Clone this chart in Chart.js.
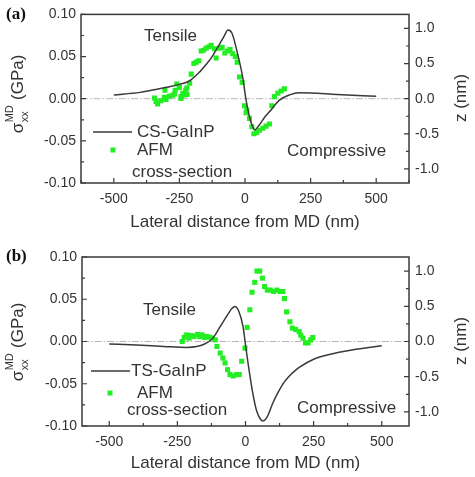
<!DOCTYPE html>
<html><head><meta charset="utf-8">
<script src="https://cdn.jsdelivr.net/npm/chart.js@4"></script>
<style>
html,body{margin:0;padding:0;background:#fff;width:475px;height:477px;overflow:hidden}
.wrap{position:absolute;left:0;width:475px}
#wa{top:0;height:240px}
#wb{top:240px;height:237px}
canvas{display:block}
</style></head><body>
<div class="wrap" id="wa"><canvas id="ca" width="475" height="240"></canvas></div>
<div class="wrap" id="wb"><canvas id="cb" width="475" height="237"></canvas></div>
<script>
// ---- tick labels ----
const xTicks = [-500, -250, 0, 250, 500];
const stressTicks = [-0.10, -0.05, 0.00, 0.05, 0.10];
const zTicks = [-1.0, -0.5, 0.0, 0.5, 1.0];

// ---- panel (a): CS-GaInP model stress (GPa) ----
const csX = [-500,-400,-340,-300,-250,-212,-175,-150,-125,-110,-100,-80,-65,-50,-28,-9,4,15,29,37,50,75,100,130,170,207,250,350,500];
const csStress = [0.0044,0.0075,0.011,0.0135,0.017,0.021,0.031,0.040,0.050,0.058,0.063,0.074,0.0815,0.078,0.053,0.026,-0.0015,-0.019,-0.033,-0.037,-0.033,-0.022,-0.013,-0.002,0.0045,0.007,0.0068,0.005,0.003];
// ---- panel (a): AFM cross-section height (nm) ----
const afmAX = [-345,-339,-333,-320,-307,-305,-301,-288,-275,-269,-266,-260,-250,-244,-243,-237,-231,-226,-222,-221,-211,-205,-195,-186,-176,-167,-158,-148,-137,-129,-116,-110,-98,-87,-77,-67,-57,-47,-37,-30,-21,-11,-2,4,7,17,26,34,45,55,68,80,93,102,112,125,138,150];
const afmAZ = [0.01,-0.04,-0.076,-0.03,0.02,0.12,-0.01,0.035,0.05,0.067,0.12,0.21,0.16,0.005,0.03,0.077,0.053,0.12,0.15,0.06,0.22,0.35,0.50,0.52,0.54,0.68,0.69,0.72,0.74,0.76,0.71,0.58,0.72,0.73,0.65,0.68,0.70,0.64,0.60,0.52,0.31,0.23,-0.10,-0.20,-0.16,-0.28,-0.40,-0.50,-0.48,-0.45,-0.42,-0.39,-0.36,-0.10,0.03,0.08,0.11,0.14];

// ---- panel (b): TS-GaInP model stress (GPa) ----
const tsX = [-500,-400,-300,-214,-150,-120,-93,-63,-50,-39,-25,-9,0,10,25,40,55,65,80,100,120,140,160,180,200,250,300,400,500];
const tsStress = [-0.003,-0.0042,-0.0058,-0.007,-0.003,0.004,0.0176,0.033,0.039,0.0415,0.036,0.0176,-0.004,-0.027,-0.058,-0.081,-0.092,-0.094,-0.089,-0.073,-0.060,-0.049,-0.041,-0.035,-0.030,-0.021,-0.016,-0.0095,-0.005];
// ---- panel (b): AFM cross-section height (nm) ----
const afmBX = [-232,-225,-216,-207,-199,-189,-177,-168,-159,-150,-141,-131,-122,-111,-105,-93,-83,-75,-66,-57,-45,-33,-23,-14,-2,6,16,24,34,42,52,62,70,80,91,103,115,127,137,143,151,163,172,184,197,203,211,220,230,239,247];
const afmBZ = [0.0,0.06,0.094,0.047,0.085,0.07,0.10,0.07,0.094,0.056,0.07,0.06,0.047,0.023,-0.07,-0.165,-0.235,-0.305,-0.40,-0.47,-0.49,-0.47,-0.47,-0.28,-0.094,0.2,0.45,0.70,0.84,1.0,1.0,0.90,0.78,0.73,0.73,0.71,0.73,0.71,0.71,0.61,0.42,0.28,0.19,0.17,0.14,0.09,0.047,-0.02,-0.02,0.023,0.056];

const FONT = "'Liberation Sans', Arial, Helvetica, sans-serif";
const TXT = '#333333';
const LINE = '#3a3a3a';
const GREEN = '#22ee22';

function pts(xs, ys){ return xs.map((x,i)=>({x, y: ys[i]})); }

function decor(cfg){
  return {
    id: 'decor',
    beforeDatasetsDraw(chart){
      const {ctx, chartArea:a, scales} = chart;
      const y0 = scales.y.getPixelForValue(0);
      ctx.save();
      ctx.strokeStyle = '#b5b5b5'; ctx.lineWidth = 1; ctx.setLineDash([7,2,1.5,2]);
      ctx.beginPath(); ctx.moveTo(a.left, y0); ctx.lineTo(a.right, y0); ctx.stroke();
      ctx.restore();
    },
    afterDraw(chart){
      const {ctx, chartArea:a, scales} = chart;
      ctx.save();
      ctx.strokeStyle = LINE; ctx.lineWidth = 1.5;
      ctx.strokeRect(a.left, a.top, a.right - a.left, a.bottom - a.top);
      ctx.lineWidth = 1.2;
      const tickSet = (scale, majors) => {
        const step = majors[1] - majors[0];
        const minors = [];
        majors.forEach(v => { [v - step/2, v + step/2].forEach(m => {
          if (m >= scale.min && m <= scale.max && !minors.some(q => Math.abs(q-m) < 1e-9)) minors.push(m);
        }); });
        return {majors, minors};
      };
      const xs = tickSet(scales.x, xTicks);
      ctx.beginPath();
      xs.majors.forEach(v => { const p = scales.x.getPixelForValue(v); ctx.moveTo(p, a.bottom); ctx.lineTo(p, a.bottom - 5); });
      xs.minors.forEach(v => { const p = scales.x.getPixelForValue(v); ctx.moveTo(p, a.bottom); ctx.lineTo(p, a.bottom - 3); });
      const ys = tickSet(scales.y, stressTicks);
      ys.majors.forEach(v => { const p = scales.y.getPixelForValue(v); ctx.moveTo(a.left, p); ctx.lineTo(a.left + 5, p); });
      ys.minors.forEach(v => { const p = scales.y.getPixelForValue(v); ctx.moveTo(a.left, p); ctx.lineTo(a.left + 3, p); });
      const zs = tickSet(scales.y1, zTicks);
      zs.majors.forEach(v => { const p = scales.y1.getPixelForValue(v); ctx.moveTo(a.right, p); ctx.lineTo(a.right - 5, p); });
      zs.minors.forEach(v => { const p = scales.y1.getPixelForValue(v); ctx.moveTo(a.right, p); ctx.lineTo(a.right - 3, p); });
      ctx.stroke();

      ctx.fillStyle = '#111';
      ctx.font = "bold 17px 'Liberation Serif', 'Times New Roman', serif";
      ctx.textBaseline = 'middle'; ctx.textAlign = 'left';
      ctx.fillText(cfg.panel, 6, cfg.panelY);

      ctx.fillStyle = TXT;
      ctx.font = '17px ' + FONT;
      ctx.fillText('Tensile', cfg.tensile[0], cfg.tensile[1]);
      ctx.fillText('Compressive', cfg.comp[0], cfg.comp[1]);
      ctx.strokeStyle = LINE; ctx.lineWidth = 1.5;
      ctx.beginPath(); ctx.moveTo(cfg.legLine[0], cfg.legLine[2]); ctx.lineTo(cfg.legLine[1], cfg.legLine[2]); ctx.stroke();
      ctx.fillText(cfg.name, cfg.legText[0], cfg.legLine[2]);
      ctx.fillStyle = GREEN;
      ctx.fillRect(cfg.legSq[0] - 2.5, cfg.legSq[1] - 2.5, 5, 5);
      ctx.fillStyle = TXT;
      ctx.fillText('AFM', cfg.afmText[0], cfg.afmText[1]);
      ctx.fillText('cross-section', cfg.cross[0], cfg.cross[1]);

      ctx.textAlign = 'center';
      ctx.fillText('Lateral distance from MD (nm)', (a.left + a.right)/2, cfg.xTitleY);

      ctx.save();
      ctx.translate(cfg.yTitle[0], cfg.yTitle[1]);
      ctx.rotate(-Math.PI/2);
      ctx.textBaseline = 'alphabetic'; ctx.textAlign = 'left';
      ctx.font = '17px ' + FONT;
      const wSig = ctx.measureText('\u03c3').width;
      ctx.font = '11px ' + FONT;
      const wSub = Math.max(ctx.measureText('xx').width, ctx.measureText('MD').width);
      ctx.font = '17px ' + FONT;
      const wRest = ctx.measureText(' (GPa)').width;
      let x0 = -(wSig + wSub + 1 + wRest)/2;
      ctx.fillText('\u03c3', x0, 0);
      ctx.font = '11px ' + FONT;
      ctx.fillText('xx', x0 + wSig + 0.5, 5);
      ctx.fillText('MD', x0 + wSig + 0.5, -10);
      ctx.font = '17px ' + FONT;
      ctx.fillText(' (GPa)', x0 + wSig + wSub + 1, 0);
      ctx.restore();

      ctx.save();
      ctx.translate(cfg.zTitle[0], cfg.zTitle[1]);
      ctx.rotate(-Math.PI/2);
      ctx.textBaseline = 'alphabetic'; ctx.textAlign = 'center';
      ctx.font = '17px ' + FONT;
      ctx.fillText('z (nm)', 0, 0);
      ctx.restore();

      ctx.restore();
    }
  };
}

function makeChart(id, lineX, lineY, dotX, dotY, xMin, xMax, box, cfg){
  const W = 475, H = box.h;
  return new Chart(document.getElementById(id), {
    data: {
      datasets: [
        { type: 'scatter', label: 'AFM cross-section', data: pts(dotX, dotY), yAxisID: 'y1',
          pointStyle: 'rect', pointRadius: 3.6, pointBorderWidth: 0, backgroundColor: GREEN, borderColor: GREEN, order: 2 },
        { type: 'line', label: cfg.name, data: pts(lineX, lineY), yAxisID: 'y',
          borderColor: LINE, borderWidth: 1.5, pointRadius: 0, fill: false, cubicInterpolationMode: 'monotone', order: 1 }
      ]
    },
    options: {
      responsive: false, animation: false, devicePixelRatio: 1,
      layout: { padding: { top: box.top, left: 0, right: 0, bottom: 0 } },
      plugins: { legend: { display: false }, tooltip: { enabled: false } },
      scales: {
        x: { type: 'linear', position: 'bottom', min: xMin, max: xMax,
          afterBuildTicks: s => { s.ticks = xTicks.map(v => ({value: v})); },
          afterFit: s => { s.height = H - box.bottom; },
          ticks: { font: { family: FONT, size: 14 }, color: TXT, padding: 8, maxRotation: 0, callback: v => String(v) },
          grid: { display: false, drawTicks: false }, border: { display: false } },
        y: { type: 'linear', position: 'left', min: -0.1, max: 0.1,
          afterBuildTicks: s => { s.ticks = stressTicks.map(v => ({value: v})); },
          afterFit: s => { s.width = box.left; },
          ticks: { font: { family: FONT, size: 14 }, color: TXT, padding: 5, callback: v => Number(v).toFixed(2) },
          grid: { display: false, drawTicks: false }, border: { display: false } },
        y1: { type: 'linear', position: 'right', min: -1.2, max: 1.2,
          afterBuildTicks: s => { s.ticks = zTicks.map(v => ({value: v})); },
          afterFit: s => { s.width = W - box.right; },
          ticks: { font: { family: FONT, size: 14 }, color: TXT, padding: 6, callback: v => Number(v).toFixed(1) },
          grid: { display: false, drawTicks: false }, border: { display: false } }
      }
    },
    plugins: [decor(cfg)]
  });
}

makeChart('ca', csX, csStress, afmAX, afmAZ, -625, 625,
  { top: 14, left: 81, right: 409, bottom: 183, h: 240 },
  { panel: '(a)', panelY: 15, name: 'CS-GaInP', tensile: [144, 36], comp: [287, 151],
    legLine: [93, 132, 132], legText: [137], legSq: [113, 150], afmText: [137, 150], cross: [132, 172],
    xTitleY: 222, yTitle: [23, 94], zTitle: [466, 98] });

makeChart('cb', tsX, tsStress, afmBX, afmBZ, -600, 600,
  { top: 17, left: 82, right: 409, bottom: 186, h: 237 },
  { panel: '(b)', panelY: 17, name: 'TS-GaInP', tensile: [143, 70], comp: [297, 168],
    legLine: [91, 130, 131], legText: [131], legSq: [110, 153], afmText: [137, 153], cross: [127, 170],
    xTitleY: 223, yTitle: [23, 102], zTitle: [466, 101] });
</script>
</body></html>
